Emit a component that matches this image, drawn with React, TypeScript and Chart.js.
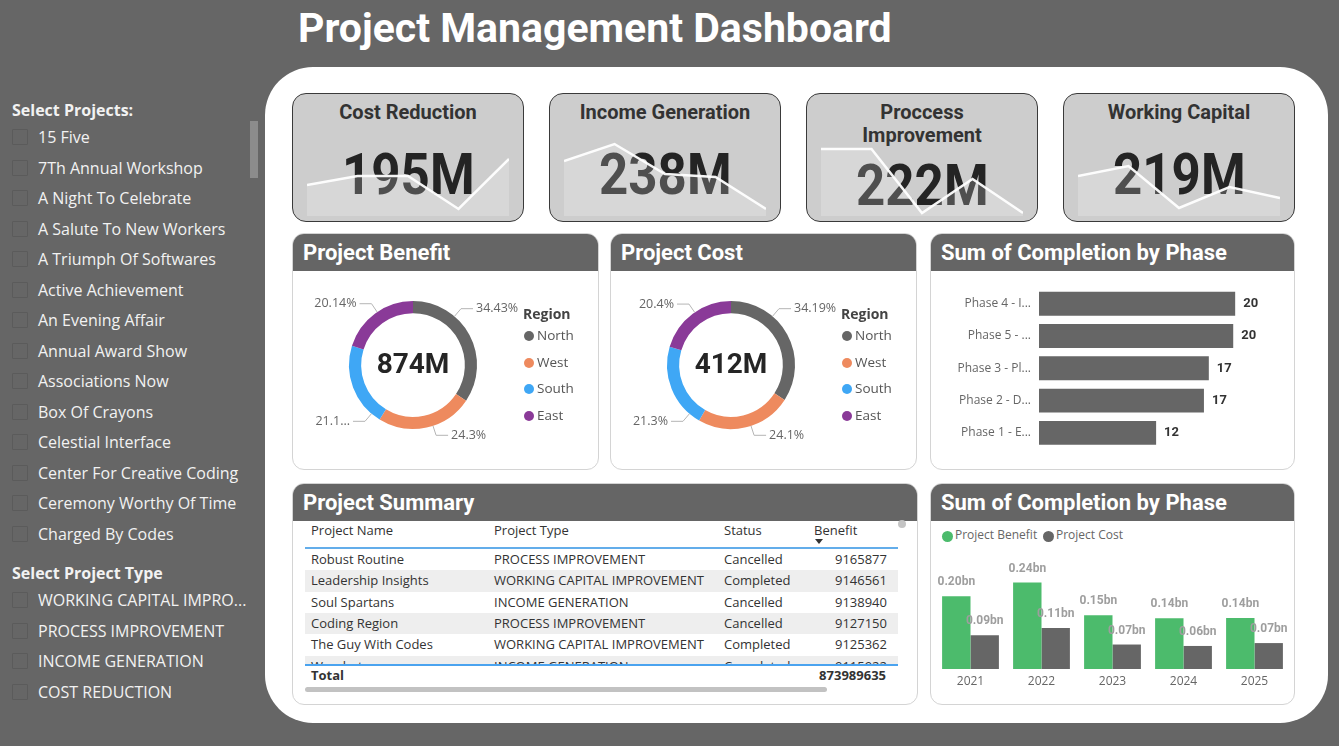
import React, { useEffect, useRef } from 'react';
import { Chart, registerables } from 'chart.js';

Chart.register(...registerables);

const UI = '"Open Sans", "Noto Sans", "DejaVu Sans", sans-serif';
const HEAD = 'Roboto, "Open Sans", sans-serif';
Chart.defaults.font.family = UI;

// ---------- slicers ----------
const projectOptions = [
  '15 Five',
  '7Th Annual Workshop',
  'A Night To Celebrate',
  'A Salute To New Workers',
  'A Triumph Of Softwares',
  'Active Achievement',
  'An Evening Affair',
  'Annual Award Show',
  'Associations Now',
  'Box Of Crayons',
  'Celestial Interface',
  'Center For Creative Coding',
  'Ceremony Worthy Of Time',
  'Charged By Codes',
];
const projectTypeOptions = ['WORKING CAPITAL IMPRO...', 'PROCESS IMPROVEMENT', 'INCOME GENERATION', 'COST REDUCTION'];

// ---------- KPI cards (benefit by project type, M) ----------
const kpiTitles = ['Cost Reduction', 'Income Generation', 'Proccess Improvement', 'Working Capital'];
const trendPeriods = ['2021', '2022', '2023', '2024', '2025'];
const costReductionTrend = [37.8, 40.5, 40.5, 30.6, 45.6];
const incomeGenerationTrend = [51.2, 56.3, 47.3, 46.4, 36.8];
const processImprovementTrend = [53.9, 53.9, 34.7, 44.9, 34.7];
const workingCapitalTrend = [47.1, 50.1, 37.5, 43.8, 40.5];
const trendAxisMin = [28.5, 34.7, 33.8, 35.1];
const trendAxisSpan = 24;

// ---------- region donuts (M) ----------
const regions = ['North', 'West', 'South', 'East'];
const regionColors = ['#666666', '#EE8A5E', '#3FA7F5', '#8A3A98'];
const benefitByRegion = [300.9, 212.4, 184.7, 176.0];
const costByRegion = [140.86, 99.29, 87.76, 84.05];

// ---------- completion by phase ----------
const phaseLabels = ['Phase 4 - I...', 'Phase 5 - ...', 'Phase 3 - Pl...', 'Phase 2 - D...', 'Phase 1 - E...'];
const phaseCompletion = [20.1, 19.9, 17.4, 16.9, 12.0];

// ---------- benefit vs cost by year (bn) ----------
const years = ['2021', '2022', '2023', '2024', '2025'];
const benefitByYear = [0.202, 0.24, 0.149, 0.141, 0.142];
const costByYear = [0.094, 0.114, 0.068, 0.064, 0.072];

// ---------- project summary table ----------
const summaryNames = ['Robust Routine', 'Leadership Insights', 'Soul Spartans', 'Coding Region', 'The Guy With Codes', 'Wombat'];
const summaryTypes = [
  'PROCESS IMPROVEMENT',
  'WORKING CAPITAL IMPROVEMENT',
  'INCOME GENERATION',
  'PROCESS IMPROVEMENT',
  'WORKING CAPITAL IMPROVEMENT',
  'INCOME GENERATION',
];
const summaryStatus = ['Cancelled', 'Completed', 'Cancelled', 'Cancelled', 'Completed', 'Completed'];
const summaryBenefit = [9165877, 9146561, 9138940, 9127150, 9125362, 9115922];
const summaryTotal = 873989635;

const BENEFIT_GREEN = '#4CBB6C';
const DARK = '#666666';

function ChartCanvas({ config, style }: { config: () => any; style: React.CSSProperties }) {
  const ref = useRef<HTMLCanvasElement | null>(null);
  useEffect(() => {
    if (!ref.current) return;
    const chart = new Chart(ref.current, config());
    return () => chart.destroy();
  }, []);
  return (
    <div style={{ position: 'absolute', ...style }}>
      <canvas ref={ref} />
    </div>
  );
}

// ---------- chart configs ----------
function sparkConfig(values: number[], min: number) {
  return {
    type: 'line',
    data: {
      labels: trendPeriods,
      datasets: [
        {
          data: values,
          borderColor: 'rgba(255,255,255,0.95)',
          borderWidth: 2.5,
          backgroundColor: 'rgba(255,255,255,0.2)',
          fill: 'start',
          pointRadius: 0,
          tension: 0,
        },
      ],
    },
    options: {
      animation: false,
      responsive: true,
      maintainAspectRatio: false,
      events: [],
      layout: { padding: 0 },
      plugins: { legend: { display: false }, tooltip: { enabled: false } },
      scales: {
        x: { display: false },
        y: { display: false, min, max: min + trendAxisSpan },
      },
    },
  };
}

const donutLabelPlugin = {
  id: 'donutLabels',
  afterDraw(chart: any) {
    const ctx = chart.ctx;
    const values = chart.data.datasets[0].data as number[];
    const total = values.reduce((a, b) => a + b, 0);
    const arcs = chart.getDatasetMeta(0).data;
    ctx.save();
    arcs.forEach((arc: any, i: number) => {
      const cx = arc.x;
      const cy = arc.y;
      const R = arc.outerRadius;
      const mid = (arc.startAngle + arc.endAngle) / 2;
      const right = Math.cos(mid) >= 0;
      let dy = (R + 12) * Math.sin(mid);
      const minDy = 0.88 * R;
      if (Math.abs(dy) < minDy) dy = (Math.sin(mid) < 0 ? -1 : 1) * minDy;
      const s = Math.max(-0.95, Math.min(0.95, dy / (R + 10)));
      const c = Math.sqrt(1 - s * s) * (right ? 1 : -1);
      const ax = cx + R * c;
      const ay = cy + R * s;
      const ex = cx + (R + 10) * c;
      const ey = cy + (R + 10) * s;
      const hx = ex + (right ? 12 : -12);
      ctx.strokeStyle = '#b5b5b5';
      ctx.lineWidth = 1;
      ctx.beginPath();
      ctx.moveTo(ax, ay);
      ctx.lineTo(ex, ey);
      ctx.lineTo(hx, ey);
      ctx.stroke();

      const pct = (values[i] / total) * 100;
      let text = `${parseFloat(pct.toFixed(2))}%`;
      ctx.font = `12.5px ${UI}`;
      ctx.fillStyle = '#666666';
      ctx.textBaseline = 'middle';
      const tx = hx + (right ? 3 : -3);
      const room = right ? chart.width - tx : tx - 19;
      if (ctx.measureText(text).width > room) {
        let t = text;
        while (t.length > 1 && ctx.measureText(t + '...').width > room) t = t.slice(0, -1);
        text = t + '...';
      }
      ctx.textAlign = right ? 'left' : 'right';
      ctx.fillText(text, tx, ey);
    });
    ctx.font = `700 28px ${HEAD}`;
    ctx.fillStyle = '#252525';
    ctx.textAlign = 'center';
    ctx.textBaseline = 'middle';
    ctx.fillText(`${Math.round(total)}M`, arcs[0].x, arcs[0].y + 1);
    ctx.restore();
  },
};

function donutConfig(values: number[]) {
  return {
    type: 'doughnut',
    data: {
      labels: regions,
      datasets: [{ data: values, backgroundColor: regionColors, borderWidth: 0 }],
    },
    options: {
      animation: false,
      responsive: true,
      maintainAspectRatio: false,
      cutout: '81%',
      events: [],
      layout: { padding: { left: 56, right: 56, top: 30, bottom: 38 } },
      plugins: { legend: { display: false }, tooltip: { enabled: false } },
    },
    plugins: [donutLabelPlugin],
  };
}

const phaseValuePlugin = {
  id: 'phaseValues',
  afterDatasetsDraw(chart: any) {
    const ctx = chart.ctx;
    const data = chart.data.datasets[0].data as number[];
    ctx.save();
    ctx.font = `700 13px ${HEAD}`;
    ctx.fillStyle = '#333333';
    ctx.textAlign = 'left';
    ctx.textBaseline = 'middle';
    chart.getDatasetMeta(0).data.forEach((bar: any, i: number) => {
      ctx.fillText(String(Math.round(data[i])), bar.x + 8, bar.y);
    });
    ctx.restore();
  },
};

function phaseConfig() {
  return {
    type: 'bar',
    data: {
      labels: phaseLabels,
      datasets: [
        {
          data: phaseCompletion,
          backgroundColor: DARK,
          borderWidth: 0,
          barPercentage: 0.74,
          categoryPercentage: 1,
        },
      ],
    },
    options: {
      indexAxis: 'y',
      animation: false,
      responsive: true,
      maintainAspectRatio: false,
      events: [],
      layout: { padding: { top: 16.6, bottom: 20, right: 11, left: 0 } },
      plugins: { legend: { display: false }, tooltip: { enabled: false } },
      scales: {
        x: { display: false, min: 0, max: 25 },
        y: {
          grid: { display: false, drawTicks: false },
          border: { display: false },
          ticks: { color: '#666666', font: { family: UI, size: 12 }, padding: 8 },
          afterFit(scale: any) {
            scale.width = 108;
          },
        },
      },
    },
    plugins: [phaseValuePlugin],
  };
}

const bnLabelPlugin = {
  id: 'bnLabels',
  afterDatasetsDraw(chart: any) {
    const ctx = chart.ctx;
    ctx.save();
    ctx.font = `700 12px ${HEAD}`;
    ctx.fillStyle = '#9e9e9e';
    ctx.textAlign = 'center';
    ctx.textBaseline = 'bottom';
    chart.data.datasets.forEach((ds: any, d: number) => {
      chart.getDatasetMeta(d).data.forEach((bar: any, i: number) => {
        ctx.fillText(`${(ds.data[i] as number).toFixed(2)}bn`, bar.x, bar.y - 8);
      });
    });
    ctx.restore();
  },
};

function yearConfig() {
  return {
    type: 'bar',
    data: {
      labels: years,
      datasets: [
        { label: 'Project Benefit', data: benefitByYear, backgroundColor: BENEFIT_GREEN, barPercentage: 1, categoryPercentage: 0.8 },
        { label: 'Project Cost', data: costByYear, backgroundColor: DARK, barPercentage: 1, categoryPercentage: 0.8 },
      ],
    },
    options: {
      animation: false,
      responsive: true,
      maintainAspectRatio: false,
      events: [],
      layout: { padding: { left: 4, right: 4, top: 15, bottom: 0 } },
      plugins: { legend: { display: false }, tooltip: { enabled: false } },
      scales: {
        x: {
          grid: { display: false, drawTicks: false },
          border: { display: false },
          ticks: { color: '#666666', font: { family: UI, size: 12 }, padding: 5 },
          afterFit(scale: any) {
            scale.height = 27;
          },
        },
        y: { display: false, min: 0, max: 0.3 },
      },
    },
    plugins: [bnLabelPlugin],
  };
}

// ---------- layout pieces ----------
function Checkbox({ top }: { top: number }) {
  return (
    <div
      style={{
        position: 'absolute',
        left: 12,
        top: top - 8,
        width: 16,
        height: 16,
        boxSizing: 'border-box',
        border: '1px solid #5b5b5b',
        borderRadius: 1,
      }}
    />
  );
}

function SlicerItem({ label, y }: { label: string; y: number }) {
  return (
    <>
      <Checkbox top={y} />
      <div
        style={{
          position: 'absolute',
          left: 38,
          top: y - 11,
          height: 22,
          lineHeight: '22px',
          font: `16px ${UI}`,
          color: '#f2f2f2',
          whiteSpace: 'nowrap',
        }}
      >
        {label}
      </div>
    </>
  );
}

function SlicerHeading({ text, y }: { text: string; y: number }) {
  return (
    <div
      style={{
        position: 'absolute',
        left: 12,
        top: y - 11,
        lineHeight: '22px',
        font: `700 16px ${UI}`,
        color: '#f2f2f2',
      }}
    >
      {text}
    </div>
  );
}

function KpiCard({ x, title, values, min }: { x: number; title: string; values: number[]; min: number }) {
  const total = Math.round(values.reduce((a, b) => a + b, 0));
  return (
    <div
      style={{
        position: 'absolute',
        left: x,
        top: 93,
        width: 232,
        height: 129,
        background: '#cdcdcd',
        border: '1.5px solid #3a3a3a',
        borderRadius: 14,
        boxSizing: 'border-box',
        display: 'flex',
        flexDirection: 'column',
        alignItems: 'center',
        overflow: 'hidden',
      }}
    >
      <div style={{ marginTop: 7, maxWidth: 190, textAlign: 'center', font: `700 20px ${HEAD}`, lineHeight: '23px', color: '#333333' }}>
        {title}
      </div>
      <div style={{ flex: 1, display: 'flex', alignItems: 'center', justifyContent: 'center', paddingTop: 2 }}>
        <div style={{ font: `700 58px ${HEAD}`, lineHeight: 1, color: '#242424', transform: 'scaleX(0.88)' }}>{total}M</div>
      </div>
      <ChartCanvas config={() => sparkConfig(values, min)} style={{ left: 14, top: 42, width: 202, height: 80 }} />
    </div>
  );
}

function Panel({ x, y, w, h, title, children }: { x: number; y: number; w: number; h: number; title: string; children?: React.ReactNode }) {
  return (
    <div
      style={{
        position: 'absolute',
        left: x,
        top: y,
        width: w,
        height: h,
        background: '#ffffff',
        border: '1px solid #d4d4d4',
        borderRadius: 12,
        boxSizing: 'border-box',
        overflow: 'hidden',
      }}
    >
      <div style={{ height: 37, background: '#656565', color: '#ffffff', font: `700 22px ${HEAD}`, lineHeight: '37px', paddingLeft: 10 }}>
        {title}
      </div>
      {children}
    </div>
  );
}

function RegionLegend() {
  return (
    <>
      <div style={{ position: 'absolute', left: 230, top: 70, lineHeight: '20px', font: `700 14px ${UI}`, color: '#444444' }}>Region</div>
      {regions.map((r, i) => (
        <React.Fragment key={r}>
          <div
            style={{
              position: 'absolute',
              left: 231,
              top: 102 + i * 26.5 - 5,
              width: 10,
              height: 10,
              borderRadius: 5,
              background: regionColors[i],
            }}
          />
          <div style={{ position: 'absolute', left: 244, top: 102 + i * 26.5 - 10, lineHeight: '20px', font: `13.5px ${UI}`, color: '#555555' }}>
            {r}
          </div>
        </React.Fragment>
      ))}
    </>
  );
}

function SummaryTable() {
  const cols = [18, 201, 431];
  const rowH = 21.3;
  const cell: React.CSSProperties = { position: 'absolute', font: `13px ${UI}`, color: '#333333', whiteSpace: 'nowrap', lineHeight: `${rowH}px` };
  return (
    <>
      {['Project Name', 'Project Type', 'Status', 'Benefit'].map((h, i) => (
        <div key={h} style={{ ...cell, left: i < 3 ? cols[i] : 521, top: 36, lineHeight: '20px' }}>
          {h}
        </div>
      ))}
      <div
        style={{
          position: 'absolute',
          left: 522,
          top: 55,
          width: 0,
          height: 0,
          borderLeft: '4px solid transparent',
          borderRight: '4px solid transparent',
          borderTop: '5px solid #333',
        }}
      />
      <div style={{ position: 'absolute', left: 609 - 4, top: 36, width: 8, height: 8, borderRadius: 4, background: '#c4c4c4' }} />
      <div style={{ position: 'absolute', left: 12, top: 63, width: 593, height: 2, background: '#63adea' }} />
      <div style={{ position: 'absolute', left: 12, top: 65, width: 593, height: 116, overflow: 'hidden' }}>
        {summaryNames.map((n, i) => (
          <div
            key={n}
            style={{
              position: 'absolute',
              left: 0,
              top: i * rowH,
              width: 593,
              height: rowH,
              background: i % 2 === 1 ? '#eeeeee' : '#ffffff',
            }}
          >
            <div style={{ ...cell, left: cols[0] - 12, top: 0 }}>{n}</div>
            <div style={{ ...cell, left: cols[1] - 12, top: 0 }}>{summaryTypes[i]}</div>
            <div style={{ ...cell, left: cols[2] - 12, top: 0 }}>{summaryStatus[i]}</div>
            <div style={{ ...cell, right: 11, top: 0, textAlign: 'right' }}>{summaryBenefit[i]}</div>
          </div>
        ))}
      </div>
      <div style={{ position: 'absolute', left: 12, top: 180, width: 593, height: 2, background: '#4aa3ef' }} />
      <div style={{ ...cell, left: 18, top: 181, fontWeight: 700 }}>Total</div>
      <div style={{ ...cell, right: 31, top: 181, fontWeight: 700, textAlign: 'right' }}>{summaryTotal}</div>
      <div style={{ position: 'absolute', left: 12, top: 203, width: 522, height: 5, borderRadius: 3, background: '#c2c2c2' }} />
    </>
  );
}

function YearLegend() {
  const item = (left: number, color: string, label: string) => (
    <>
      <div style={{ position: 'absolute', left, top: 52 - 5.5, width: 11, height: 11, borderRadius: 6, background: color }} />
      <div style={{ position: 'absolute', left: left + 13, top: 52 - 10, lineHeight: '20px', font: `12px ${UI}`, color: '#666666' }}>{label}</div>
    </>
  );
  return (
    <>
      {item(11, BENEFIT_GREEN, 'Project Benefit')}
      {item(112, DARK, 'Project Cost')}
    </>
  );
}

export default function App() {
  const trends = [costReductionTrend, incomeGenerationTrend, processImprovementTrend, workingCapitalTrend];
  const cardX = [292, 549, 806, 1063];
  return (
    <div
      style={{
        position: 'fixed',
        left: 0,
        top: 0,
        width: 1339,
        height: 746,
        background: '#666666',
        overflow: 'hidden',
        fontFamily: UI,
      }}
    >
      <div style={{ position: 'absolute', left: 298, top: 8, font: `700 41px ${HEAD}`, lineHeight: '41px', color: '#ffffff', whiteSpace: 'nowrap' }}>
        Project Management Dashboard
      </div>

      {/* slicers */}
      <SlicerHeading text="Select Projects:" y={110} />
      {projectOptions.map((p, i) => (
        <SlicerItem key={p} label={p} y={137 + i * 30.54} />
      ))}
      <div style={{ position: 'absolute', left: 250, top: 121, width: 8, height: 57, background: '#8c8c8c' }} />
      <SlicerHeading text="Select Project Type" y={573} />
      {projectTypeOptions.map((p, i) => (
        <SlicerItem key={p} label={p} y={600 + i * 30.67} />
      ))}

      {/* canvas */}
      <div style={{ position: 'absolute', left: 265, top: 67, width: 1063, height: 656, background: '#ffffff', borderRadius: 48 }} />

      {kpiTitles.map((t, i) => (
        <KpiCard key={t} x={cardX[i]} title={t} values={trends[i]} min={trendAxisMin[i]} />
      ))}

      <Panel x={292} y={233} w={307} h={237} title="Project Benefit">
        <ChartCanvas config={() => donutConfig(benefitByRegion)} style={{ left: 0, top: 37, width: 240, height: 196 }} />
        <RegionLegend />
      </Panel>

      <Panel x={610} y={233} w={307} h={237} title="Project Cost">
        <ChartCanvas config={() => donutConfig(costByRegion)} style={{ left: 0, top: 37, width: 240, height: 196 }} />
        <RegionLegend />
      </Panel>

      <Panel x={930} y={233} w={365} h={237} title="Sum of Completion by Phase">
        <ChartCanvas config={phaseConfig} style={{ left: 0, top: 37, width: 363, height: 198 }} />
      </Panel>

      <Panel x={292} y={483} w={626} h={222} title="Project Summary">
        <SummaryTable />
      </Panel>

      <Panel x={930} y={483} w={365} h={222} title="Sum of Completion by Phase">
        <YearLegend />
        <ChartCanvas config={yearConfig} style={{ left: 0, top: 62, width: 363, height: 150 }} />
      </Panel>
    </div>
  );
}
